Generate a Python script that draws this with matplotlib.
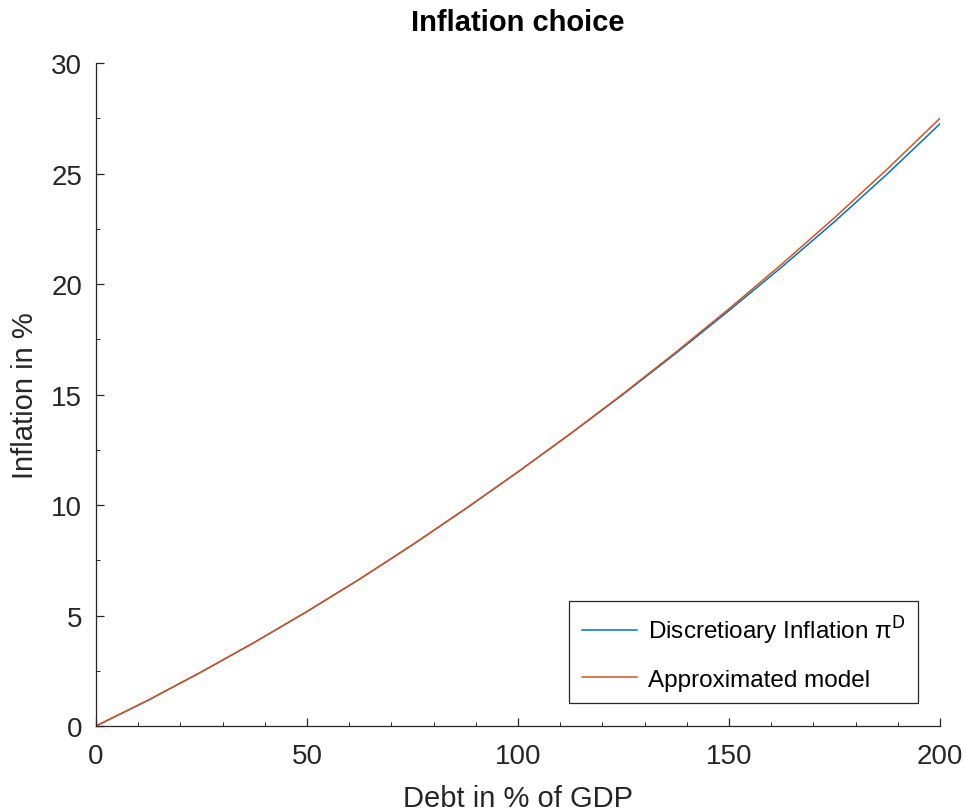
import matplotlib
matplotlib.use("Agg")
import matplotlib.pyplot as plt
from matplotlib.ticker import MultipleLocator

# debt grid (% of GDP) and inflation paths (%)
debt = [0, 12.5, 25, 37.5, 50, 62.5, 75, 87.5, 100,
        112.5, 125, 137.5, 150, 162.5, 175, 187.5, 200]
infl_discretionary = [0, 1.18, 2.45, 3.78, 5.18, 6.65, 8.2, 9.82, 11.5,
                      13.23, 15.02, 16.88, 18.8, 20.77, 22.82, 24.98, 27.25]
infl_approx = [0, 1.18, 2.45, 3.78, 5.18, 6.65, 8.2, 9.82, 11.5,
               13.24, 15.05, 16.93, 18.88, 20.9, 23.0, 25.2, 27.5]

plt.rcParams['font.family'] = ['Liberation Sans', 'DejaVu Sans']
ink = '#262626'

fig = plt.figure(figsize=(9.65, 8.12), dpi=100)
ax = fig.add_axes([0.0995, 0.1047, 0.8745, 0.8163])

ax.plot(debt, infl_discretionary, color='#0072BD', lw=1.1,
        label='Discretioary Inflation π$^{\\mathrm{D}}$')
ax.plot(debt, infl_approx, color='#D95319', lw=1.1, label='Approximated model')

ax.set_xlim(0, 200)
ax.set_ylim(0, 30)
ax.xaxis.set_major_locator(MultipleLocator(50))
ax.xaxis.set_minor_locator(MultipleLocator(10))
ax.yaxis.set_major_locator(MultipleLocator(5))
ax.yaxis.set_minor_locator(MultipleLocator(2.5))

for s in ['top', 'right']:
    ax.spines[s].set_visible(False)
for s in ['left', 'bottom']:
    ax.spines[s].set_color(ink)
    ax.spines[s].set_linewidth(0.9)

ax.tick_params(which='major', direction='in', length=6, width=0.9, color=ink,
               labelsize=20, labelcolor=ink)
ax.tick_params(which='minor', direction='in', length=3, width=0.7, color=ink)
ax.tick_params(axis='x', pad=12)
ax.tick_params(axis='y', pad=10)

ax.set_xlabel('Debt in % of GDP', fontsize=21, color=ink, labelpad=11)
ax.set_ylabel('Inflation in %', fontsize=21, color=ink, labelpad=9)
ax.set_title('Inflation choice', fontsize=21, fontweight='bold', pad=24)

leg = ax.legend(loc='lower right', bbox_to_anchor=(0.974, 0.0347),
                borderaxespad=0, fontsize=17.5,
                fancybox=False, framealpha=1, edgecolor=ink, handlelength=2.3,
                borderpad=0.5, labelspacing=0.95, handletextpad=0.45)
leg.get_frame().set_linewidth(0.9)

fig.savefig('out.png', dpi=100)
